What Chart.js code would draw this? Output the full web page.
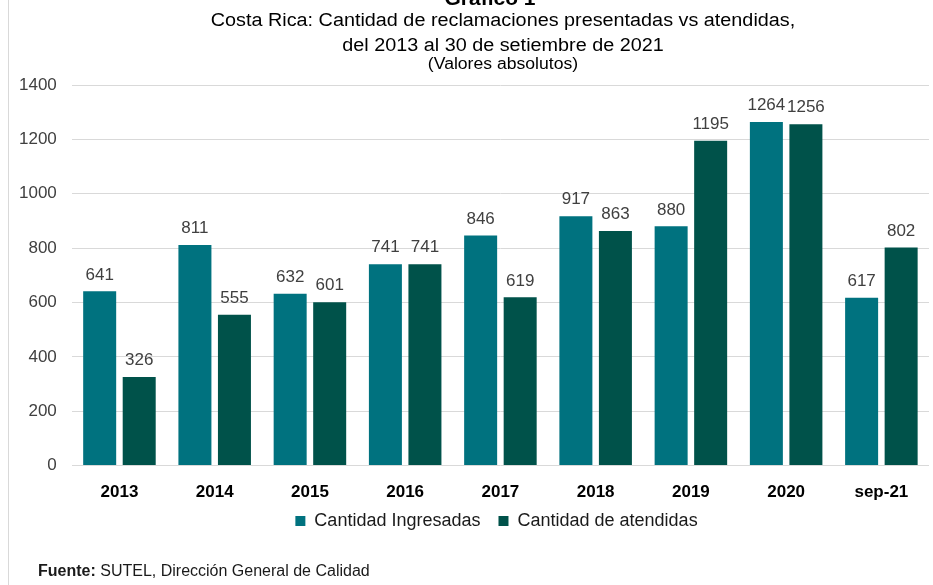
<!DOCTYPE html>
<html>
<head>
<meta charset="utf-8">
<script src="https://cdn.jsdelivr.net/npm/chart.js@4/dist/chart.umd.min.js"></script>
<style>
  body { margin: 0; background: #fff; font-family: "Liberation Sans", Arial, sans-serif; }
  #wrap { position: relative; width: 933px; height: 585px; overflow: hidden; }
  #wrap canvas { position: absolute; left: 0; top: 0; }
  .t { position: absolute; left: 0; width: 1006px; text-align: center; color: #000; white-space: nowrap; transform-origin: 503px 0; transform: scaleX(1.1); }
  #edge { position: absolute; left: 8px; top: 0; width: 1px; height: 585px; background: #d9d9d9; }
  #src { position: absolute; left: 38px; top: 562px; font-size: 16px; color: #1a1a1a; }
</style>
</head>
<body>
<div id="wrap">
  <canvas id="chart" width="933" height="585"></canvas>
  <div id="edge"></div>
  <div class="t" style="width:980px;transform:none;top:-14px;font-size:21px;font-weight:bold;">Gráfico 1</div>
  <div class="t" style="top:10px;font-size:18px;">Costa Rica: Cantidad de reclamaciones presentadas vs atendidas,</div>
  <div class="t" style="top:35px;font-size:18px;">del 2013 al 30 de setiembre de 2021</div>
  <div class="t" style="top:55px;font-size:16px;">(Valores absolutos)</div>
  <div id="src"><b>Fuente:</b> SUTEL, Dirección General de Calidad</div>
</div>
<script>
// values
const categories = ['2013', '2014', '2015', '2016', '2017', '2018', '2019', '2020', 'sep-21'];
const ingresadas = [641, 811, 632, 741, 846, 917, 880, 1264, 617];
const atendidas = [326, 555, 601, 741, 619, 863, 1195, 1256, 802];
const yTicks = [0, 200, 400, 600, 800, 1000, 1200, 1400];

const COLORS = { teal: '#00727f', dark: '#00524a', grid: '#d9d9d9', text: '#404040' };
const FONT = '"Liberation Sans", Arial, sans-serif';

// value labels above each bar
const barLabels = {
  id: 'barLabels',
  afterDatasetsDraw(chart) {
    const ctx = chart.ctx;
    ctx.save();
    ctx.font = '17px ' + FONT;
    ctx.fillStyle = COLORS.text;
    ctx.textAlign = 'center';
    ctx.textBaseline = 'bottom';
    chart.data.datasets.forEach((ds, i) => {
      chart.getDatasetMeta(i).data.forEach((bar, j) => {
        ctx.fillText(ds.data[j], bar.x, bar.y - 8);
      });
    });
    ctx.restore();
  }
};

// legend in the original sits right of the canvas centre, just under the axis labels
const legendShift = {
  id: 'legendShift',
  afterLayout(chart) {
    const lg = chart.legend;
    const h = lg.bottom - lg.top;
    lg.left += 30;
    lg.right += 30;
    lg.top = 494;
    lg.bottom = 494 + h;
  }
};

new Chart(document.getElementById('chart'), {
  type: 'bar',
  data: {
    labels: categories,
    datasets: [
      { label: 'Cantidad Ingresadas', data: ingresadas, backgroundColor: COLORS.teal },
      { label: 'Cantidad de atendidas', data: atendidas, backgroundColor: COLORS.dark }
    ]
  },
  options: {
    responsive: false,
    animation: false,
    devicePixelRatio: 1,
    categoryPercentage: 0.83,
    barPercentage: 0.835,
    layout: { padding: { top: 85, left: 4, right: 4, bottom: 27 } },
    plugins: {
      tooltip: { enabled: false },
      legend: {
        position: 'bottom',
        labels: {
          boxWidth: 10,
          boxHeight: 10,
          padding: 18,
          color: '#1a1a1a',
          font: { size: 18, family: FONT }
        }
      }
    },
    scales: {
      x: {
        grid: { display: false },
        border: { display: false },
        ticks: {
          color: '#000',
          padding: 9,
          font: { size: 17, weight: 'bold', family: FONT }
        }
      },
      y: {
        min: 0,
        max: 1400,
        afterBuildTicks: (axis) => { axis.ticks = yTicks.map(v => ({ value: v })); },
        grid: { color: COLORS.grid, drawTicks: false },
        border: { display: false },
        ticks: {
          color: COLORS.text,
          padding: 15,
          callback: (v) => String(v),
          font: { size: 17, family: FONT }
        }
      }
    }
  },
  plugins: [barLabels, legendShift]
});
</script>
</body>
</html>
